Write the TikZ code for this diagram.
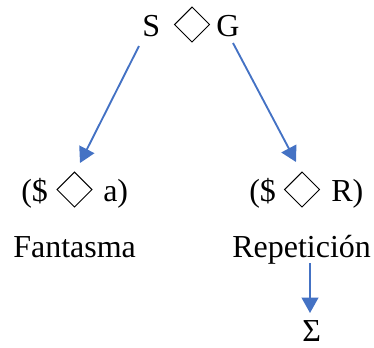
\documentclass[tikz,border=0pt]{standalone}
\usepackage{fontspec}
\setmainfont{Liberation Serif}
\usetikzlibrary{arrows.meta,shapes.geometric}
\definecolor{arrblue}{HTML}{4472C4}
\tikzset{
  txt/.style={inner sep=0pt, anchor=base west, font=\fontsize{24}{28}\selectfont},
  dmd/.style={diamond, draw=black, line width=0.75pt, inner sep=0pt,
              minimum width=26.5pt, minimum height=26.5pt},
  arr/.style={draw=arrblue, line width=1.4pt,
              -{Triangle[length=11.5pt,width=12.5pt]}}
}
\begin{document}
\begin{tikzpicture}[x=0.75pt,y=-0.75pt]
\useasboundingbox (0,0) rectangle (374,347);
% top
\node[txt] (S) at (142,36) {S};
\node[dmd] (d0) at (192,24.5) {};
\node[txt] (G) at (216,36) {G};
% left row
\node[txt] (l1) at (21,201) {(\$};
\node[dmd] (d1) at (74.5,189.5) {};
\node[txt] (l2) at (103,201) {a)};
% right row
\node[txt] (r1) at (249,201) {(\$};
\node[dmd] (d2) at (302,189.5) {};
\node[txt] (r2) at (331,201) {R)};
% labels
\node[txt] (fan) at (13,257) {Fantasma};
\node[txt] (rep) at (232,257) {Repetición};
\node[txt] (sig) at (302,341) {Σ};
% arrow ends
\coordinate (a1s) at (139,46);
\coordinate (a1e) at (80,163);
\coordinate (a2s) at (233,43);
\coordinate (a2e) at (296,162);
\coordinate (a3s) at (310,263);
\coordinate (a3e) at (310,313);
\draw[arr] (a1s) -- (a1e);
\draw[arr] (a2s) -- (a2e);
\draw[arr] (a3s) -- (a3e);
\end{tikzpicture}
\end{document}
